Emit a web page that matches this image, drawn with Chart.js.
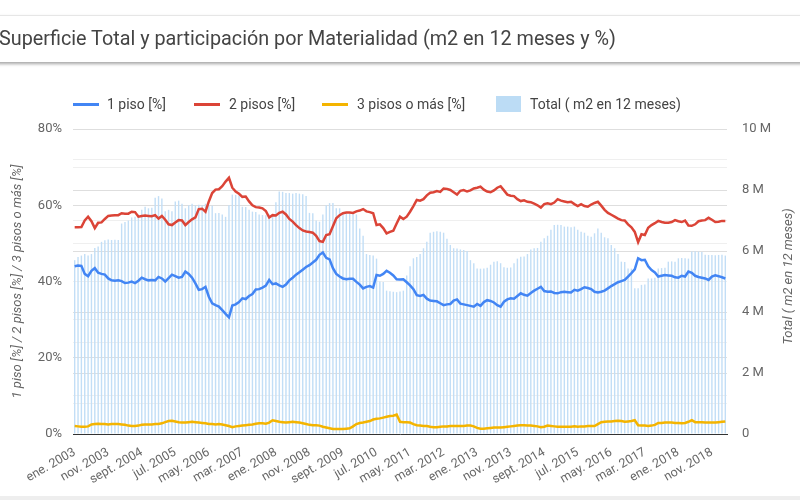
<!DOCTYPE html>
<html><head><meta charset="utf-8">
<script src="https://cdn.jsdelivr.net/npm/chart.js@4"></script>
<style>
html,body{margin:0;padding:0;background:#fff;width:800px;height:500px;overflow:hidden;font-family:Roboto,sans-serif;}
#c{position:absolute;left:0;top:0;}
#card{position:absolute;left:-10px;top:15px;width:830px;height:46px;background:#fff;border-top:1px solid #e6e6e6;box-shadow:0 2px 3px rgba(0,0,0,0.35);}
#title{position:absolute;left:-1px;top:27px;font-size:19.8px;color:#444;white-space:nowrap;line-height:24px;}
.ll{position:absolute;top:103px;height:3px;width:26px;}
.lt{position:absolute;top:96px;font-size:14px;line-height:16px;color:#444;white-space:nowrap;}
#foot{position:absolute;left:0;top:496px;width:800px;height:4px;background:#eeeeee;}
</style></head>
<body>
<canvas id="c" width="800" height="500"></canvas>
<div id="card"></div>
<div id="title">Superficie Total y participación por Materialidad (m2 en 12 meses y %)</div>
<div class="ll" style="left:73px;background:#4285f4"></div><div class="lt" style="left:107px">1 piso [%]</div>
<div class="ll" style="left:194px;background:#db4437"></div><div class="lt" style="left:229px">2 pisos [%]</div>
<div class="ll" style="left:322px;background:#f4b400"></div><div class="lt" style="left:357px">3 pisos o más [%]</div>
<div style="position:absolute;left:496px;top:96px;width:25px;height:16px;background:#bcdcf5"></div><div class="lt" style="left:530px">Total ( m2 en 12 meses)</div>
<div id="foot"></div>
<script>
const monthNames = ['ene.','feb.','mar.','abr.','may.','jun.','jul.','ago.','sept.','oct.','nov.','dic.'];
const startYear = 2003;

const piso1 = [
44.0,44.2,44.1,42.0,41.4,42.8,43.5,42.3,42.0,41.8,
40.8,40.3,40.2,40.3,40.1,39.6,39.7,40.0,39.6,40.2,
41.0,40.6,40.3,40.4,40.3,41.2,40.8,40.0,40.9,41.8,
41.4,41.0,41.2,42.6,42.0,41.0,39.5,37.8,38.0,38.6,
36.0,34.3,33.8,33.4,32.5,31.5,30.6,33.7,34.0,34.6,
35.6,35.4,36.2,36.7,37.9,38.0,38.4,38.9,40.4,39.3,
39.5,39.0,38.6,39.2,40.3,41.0,41.8,42.4,43.1,43.8,
44.3,45.0,45.7,47.0,47.6,46.2,45.8,43.5,42.0,41.3,
40.8,40.6,40.7,40.7,39.9,39.2,38.2,38.6,38.8,38.4,
41.7,41.5,42.0,42.8,42.3,41.6,40.6,40.5,40.6,39.8,
39.0,38.0,36.4,36.2,36.5,35.5,35.0,34.9,34.8,34.3,
33.8,34.0,34.1,35.0,35.3,34.2,34.0,33.8,33.6,33.4,
34.1,33.6,34.6,35.1,34.9,34.5,33.8,33.4,34.7,35.3,
35.6,35.5,36.2,36.9,36.5,36.3,37.0,37.6,38.1,38.6,
37.5,37.3,37.4,37.0,36.9,37.2,37.3,37.2,37.1,37.8,
37.6,38.0,38.5,38.3,38.0,37.3,37.1,37.3,37.6,38.2,
38.8,39.3,39.8,40.1,40.4,41.3,42.2,43.2,46.1,45.6,
45.7,44.0,43.0,42.4,41.3,41.5,41.7,41.6,41.5,41.1,
41.0,41.5,41.3,42.6,42.3,41.5,41.2,41.0,40.8,40.4,
41.3,41.6,41.4,41.1,40.8];

const pisos2 = [
54.2,54.2,54.3,56.0,57.0,55.8,54.0,55.4,55.5,56.4,
57.2,57.3,57.4,57.4,57.9,57.8,57.8,58.3,58.2,57.0,
57.2,57.3,57.2,57.1,57.4,56.5,57.2,56.2,55.0,54.8,
55.5,56.1,56.0,54.8,55.6,56.3,56.8,59.0,59.1,58.3,
61.0,63.2,64.1,64.2,65.0,66.2,67.2,64.6,63.6,63.0,
62.2,62.3,61.0,60.0,59.5,59.4,59.2,58.5,56.8,57.4,
57.3,58.0,58.3,57.6,56.4,55.7,54.8,54.0,53.4,53.1,
53.0,52.8,52.0,50.6,50.4,52.2,52.4,54.5,56.6,57.4,
57.9,58.1,58.1,58.0,58.4,58.6,59.0,58.4,58.2,57.9,
54.8,55.0,54.0,52.6,53.0,53.3,55.2,57.0,56.4,57.0,
58.3,59.8,61.4,61.2,61.6,62.6,63.3,63.4,63.7,63.5,
64.4,64.3,64.0,63.4,62.8,63.8,64.0,63.6,63.9,64.4,
64.6,64.9,64.1,63.6,63.4,63.9,64.6,65.0,63.9,62.8,
62.5,62.4,61.6,61.1,61.3,60.9,60.8,60.4,60.0,59.4,
60.3,60.5,60.3,60.7,61.6,61.2,61.0,60.8,60.9,60.3,
59.8,60.3,59.8,59.6,60.2,60.6,60.9,59.9,58.8,58.0,
57.5,57.0,56.5,56.1,56.0,55.0,54.2,53.0,50.3,52.4,
52.2,54.1,54.8,55.3,55.9,55.6,55.4,55.4,55.6,56.1,
55.8,55.6,56.0,54.7,54.6,55.0,55.8,56.0,56.1,56.7,
56.2,55.6,55.7,55.9,55.9];

const pisos3 = [
2.1,2.0,1.9,1.9,2.0,2.5,2.6,2.7,2.6,2.6,
2.5,2.6,2.6,2.6,2.5,2.4,2.2,2.1,2.1,2.2,
2.4,2.5,2.5,2.5,2.6,2.6,2.8,3.1,3.4,3.5,
3.3,3.1,3.0,3.0,3.1,3.2,3.1,3.0,2.9,2.8,
2.6,2.6,2.5,2.6,2.5,2.3,2.1,1.8,2.0,2.1,
2.2,2.3,2.4,2.5,2.7,2.8,2.8,2.7,3.0,3.6,
3.4,3.2,3.1,3.0,3.1,3.2,3.1,3.0,2.8,2.6,
2.4,2.3,2.3,2.2,1.9,1.7,1.5,1.3,1.3,1.3,
1.3,1.4,1.5,2.0,2.6,2.9,3.0,3.2,3.4,3.8,
4.0,4.1,4.3,4.5,4.7,4.8,5.1,3.2,3.1,3.1,
3.0,2.6,2.3,2.2,2.1,2.1,1.9,1.8,1.8,1.9,
2.0,2.0,2.1,2.1,2.1,2.1,2.1,2.2,2.2,2.0,
1.6,1.4,1.4,1.5,1.6,1.7,1.7,1.7,1.8,1.9,
2.0,2.1,2.2,2.3,2.3,2.2,2.2,2.1,2.0,1.8,
1.9,2.2,2.1,2.0,1.9,1.9,1.9,1.9,1.9,2.0,
1.9,2.0,2.0,2.1,2.1,2.1,2.6,3.1,3.2,3.3,
3.3,3.4,3.5,3.4,3.2,3.3,3.4,3.6,2.3,2.2,
2.2,2.1,2.2,2.4,2.9,2.9,3.0,3.0,3.0,2.9,
2.9,2.8,2.9,3.2,3.6,3.1,3.1,3.1,3.0,3.0,
3.0,3.0,3.1,3.2,3.3];

// Total (millones de m2 en 12 meses)
const totalM = [
5.70,5.80,5.85,5.90,5.85,5.90,6.10,6.15,6.30,6.35,
6.38,6.36,6.37,6.36,6.90,6.95,7.00,7.10,7.12,7.20,
7.35,7.45,7.40,7.42,7.75,7.80,7.72,7.30,7.35,7.30,
7.62,7.65,7.55,7.40,7.50,7.55,7.50,7.52,7.50,7.55,
7.50,7.48,7.24,7.25,7.20,7.12,7.50,7.85,7.84,7.82,
7.45,7.44,7.35,7.29,7.28,7.20,7.18,7.17,7.20,7.18,
7.60,7.95,7.94,7.90,7.90,7.88,7.90,7.88,7.86,7.80,
7.25,7.24,7.00,6.96,7.20,7.50,7.57,7.57,7.40,7.40,
7.25,7.24,7.24,7.22,7.20,6.74,6.50,5.90,5.87,5.85,
5.75,5.00,4.98,4.70,4.68,4.66,4.65,4.67,4.70,5.20,
5.50,5.76,5.80,5.90,6.09,6.30,6.60,6.63,6.65,6.63,
6.60,6.40,6.20,6.09,6.08,6.05,6.03,6.00,5.70,5.60,
5.43,5.42,5.43,5.45,5.55,5.65,5.66,5.60,5.47,5.45,
5.46,5.60,5.75,5.81,5.82,5.90,6.05,6.09,6.10,6.30,
6.42,6.50,6.70,6.85,6.86,6.85,6.80,6.80,6.78,6.80,
6.70,6.63,6.60,6.50,6.47,6.58,6.74,6.60,6.45,6.42,
6.20,6.09,5.90,5.65,5.64,5.43,5.42,4.78,4.78,4.89,
4.90,5.10,5.10,5.12,5.43,5.44,5.45,5.65,5.66,5.65,
5.76,5.77,5.76,5.75,5.98,5.99,5.98,5.97,5.88,5.87,
5.87,5.86,5.87,5.88,5.85];

const labels = piso1.map((_, i) => monthNames[i % 12] + ' ' + (startYear + Math.floor(i / 12)));
const tickEvery = 10;
const leftTitle = '1 piso [%] / 2 pisos [%] / 3 pisos o más [%]';
const rightTitle = 'Total ( m2 en 12 meses)';

const axisTitles = {
  id: 'axisTitles',
  afterDraw(chart) {
    const c = chart.ctx, a = chart.chartArea;
    const mid = (a.top + a.bottom) / 2;
    c.save();
    c.font = 'italic 13px Roboto';
    c.fillStyle = '#666';
    c.textAlign = 'center';
    c.textBaseline = 'middle';
    c.translate(18, mid); c.rotate(-Math.PI / 2); c.fillText(leftTitle, 0, 0);
    c.restore();
    c.save();
    c.font = 'italic 13px Roboto';
    c.fillStyle = '#666';
    c.textAlign = 'center';
    c.textBaseline = 'middle';
    c.translate(789, mid - 5); c.rotate(-Math.PI / 2); c.fillText(rightTitle, 0, 0);
    c.restore();
  }
};

new Chart(document.getElementById('c'), {
  type: 'bar',
  data: {
    labels: labels,
    datasets: [
      {type:'line', label:'1 piso [%]', data:piso1, borderColor:'#4285f4', backgroundColor:'#4285f4', borderWidth:2.5, pointRadius:0, tension:0, yAxisID:'y', order:1},
      {type:'line', label:'2 pisos [%]', data:pisos2, borderColor:'#db4437', backgroundColor:'#db4437', borderWidth:2.5, pointRadius:0, tension:0, yAxisID:'y', order:1},
      {type:'line', label:'3 pisos o más [%]', data:pisos3, borderColor:'#f4b400', backgroundColor:'#f4b400', borderWidth:2.5, pointRadius:0, tension:0, yAxisID:'y', order:1},
      {type:'bar', label:'Total ( m2 en 12 meses)', data:totalM, backgroundColor:'#c2def6', borderWidth:0, yAxisID:'y2', order:5, barPercentage:0.42, categoryPercentage:1}
    ]
  },
  options: {
    responsive:false, animation:false, devicePixelRatio:1,
    layout:{padding:{top:129, bottom:0, left:0, right:0}},
    plugins:{legend:{display:false}, tooltip:{enabled:false}},
    scales:{
      x:{
        grid:{display:false},
        border:{color:'#333', width:1},
        ticks:{autoSkip:false, maxRotation:30, minRotation:30, padding:3, color:'#666', font:{family:'Roboto', size:12.5},
          callback:(v,i)=> i % tickEvery === 0 ? labels[i] : ''},
        afterFit:s=>{ s.height = 66; }
      },
      y:{
        position:'left', min:0, max:80,
        ticks:{stepSize:10, padding:11, color:'#666', font:{family:'Roboto', size:13}, callback:v=> v % 20 === 0 ? v + '%' : ''},
        grid:{drawTicks:false, color:c=> (c.tick && c.tick.value % 20 === 0) ? '#dedede' : '#efefef'},
        border:{display:false},
        afterFit:s=>{ s.width = 73; }
      },
      y2:{
        position:'right', min:0, max:10,
        ticks:{stepSize:1, padding:15, color:'#666', font:{family:'Roboto', size:13}, callback:v=> v % 2 === 0 ? (v === 0 ? '0' : v + ' M') : ''},
        grid:{drawTicks:false, color:c=> (c.tick && c.tick.value % 2 === 0) ? '#dedede' : '#efefef'},
        border:{display:false},
        afterFit:s=>{ s.width = 73; }
      }
    }
  },
  plugins:[axisTitles]
});
</script>
</body></html>
